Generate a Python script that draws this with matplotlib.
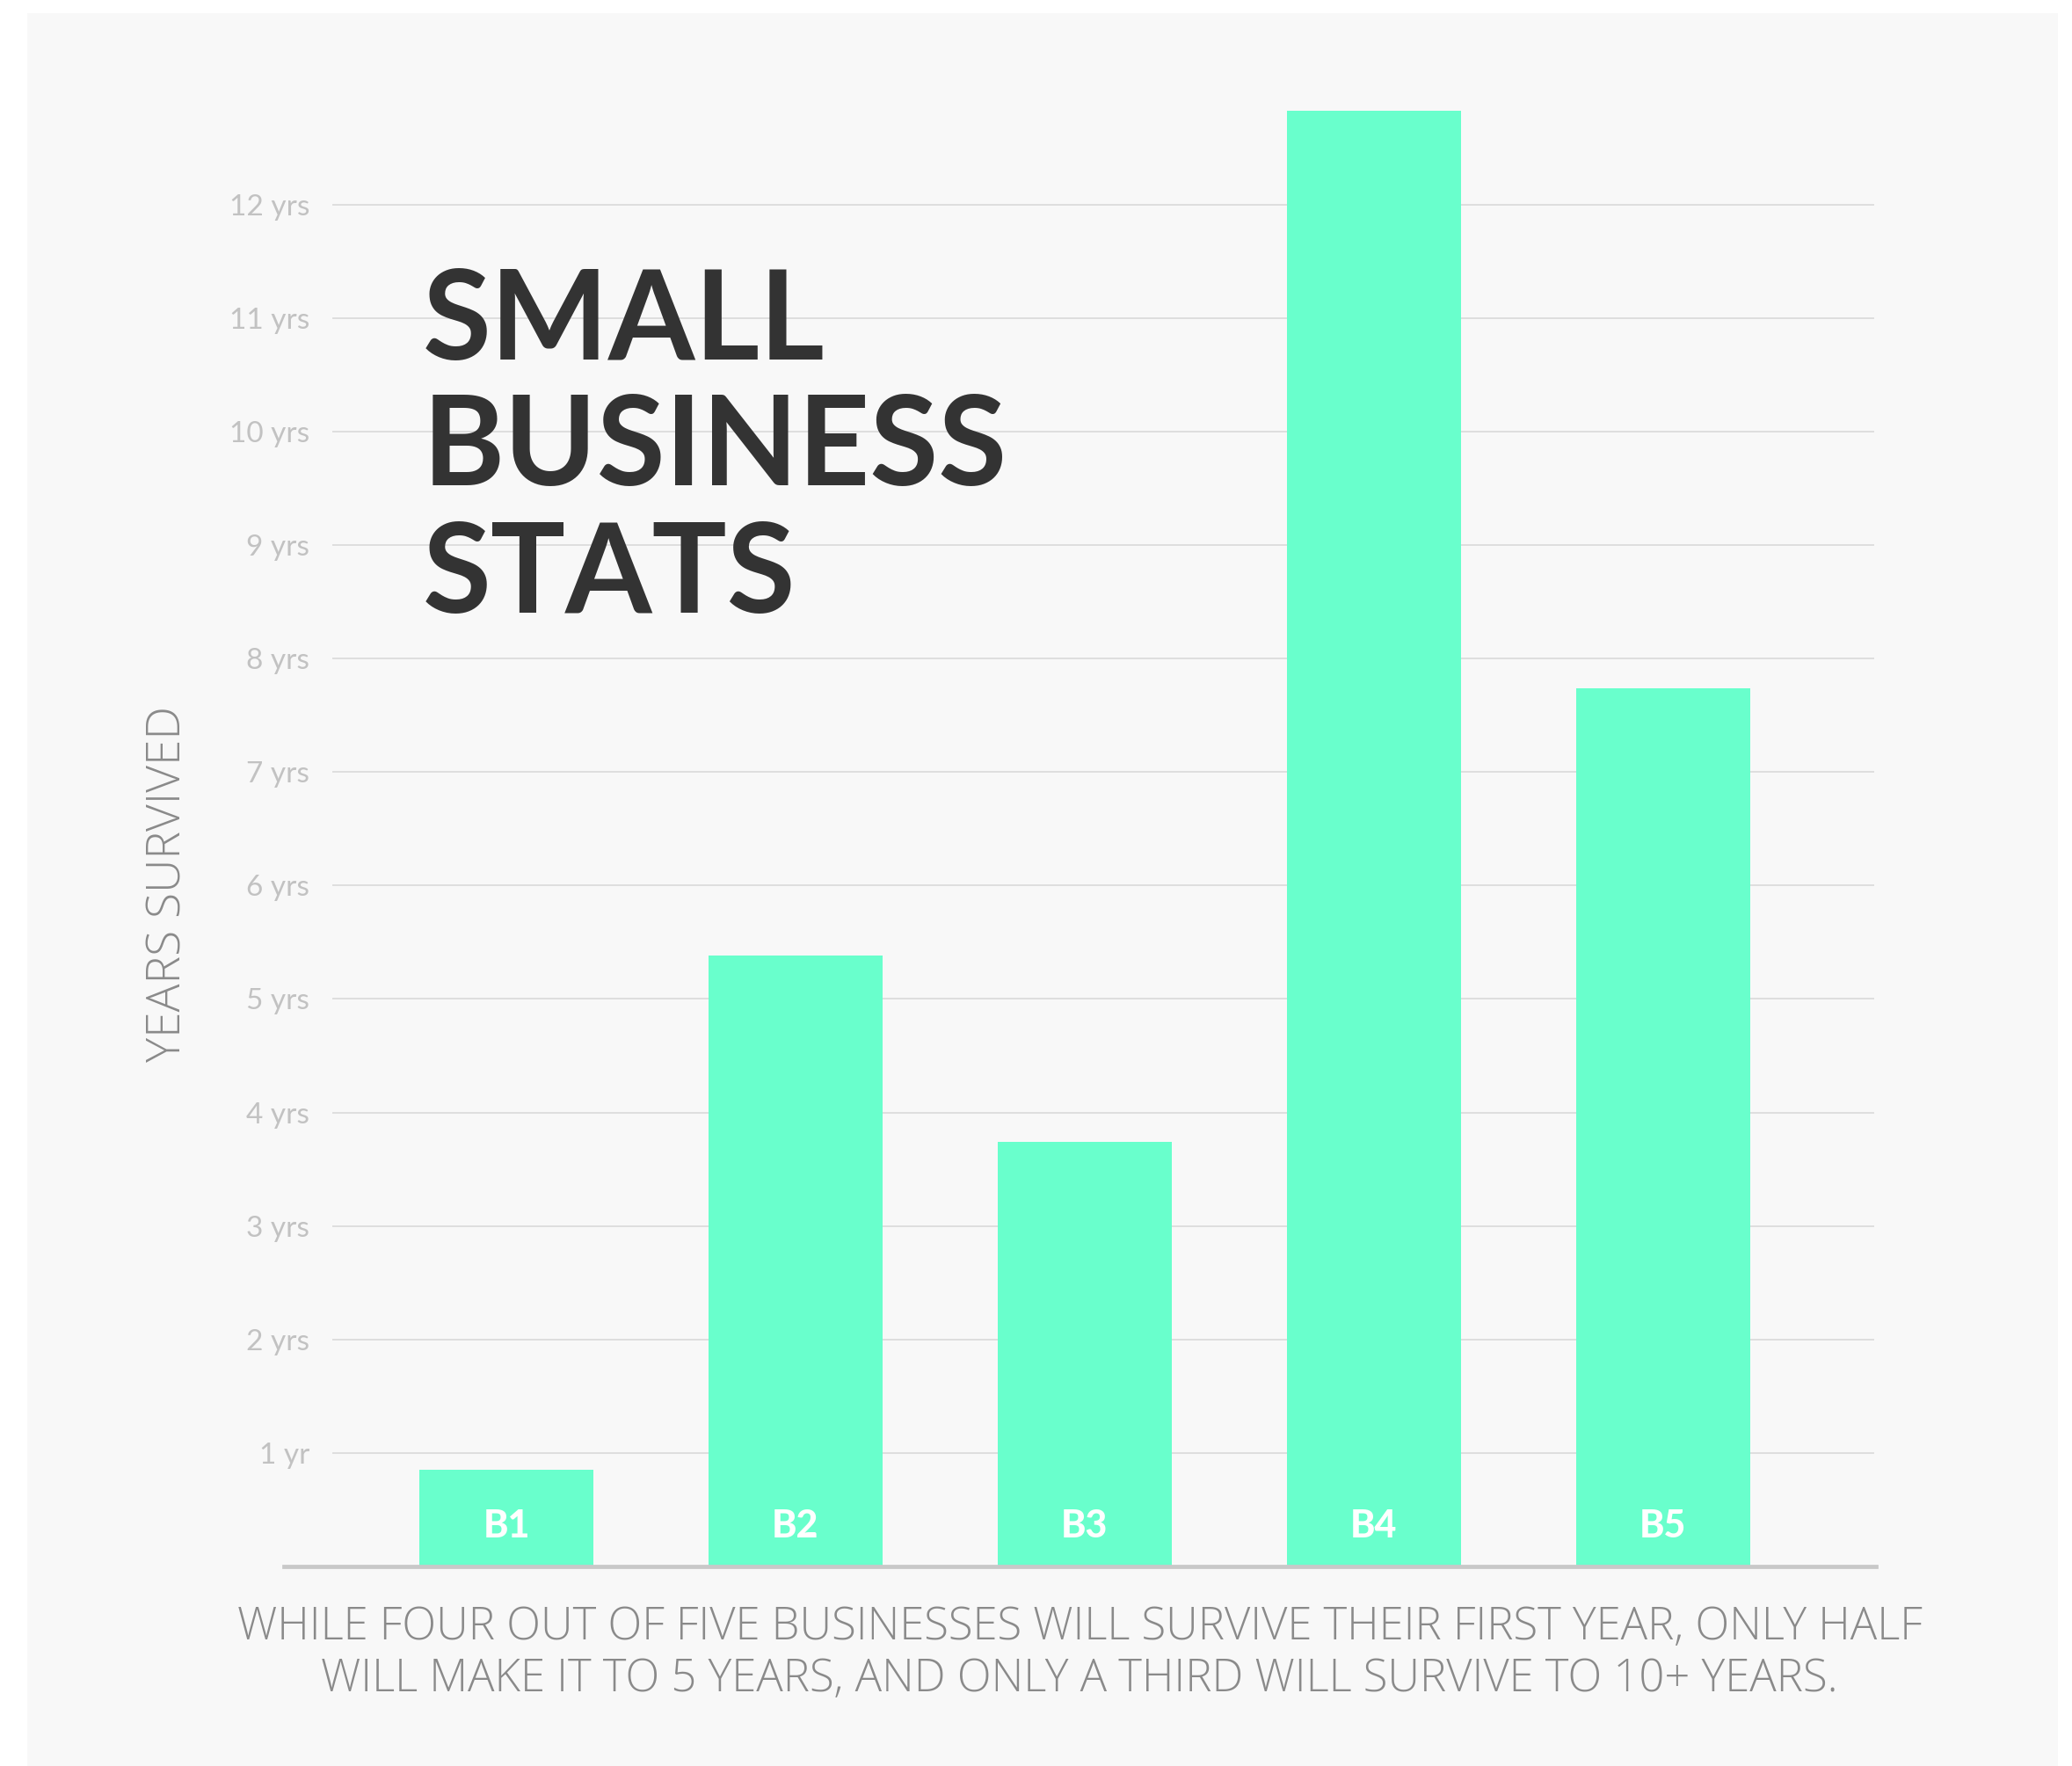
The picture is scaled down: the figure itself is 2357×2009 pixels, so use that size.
import matplotlib
matplotlib.use("Agg")
import matplotlib.pyplot as plt
from matplotlib.patches import Rectangle

# ---- data ----
categories = ["B1", "B2", "B3", "B4", "B5"]
years = [0.85, 5.38, 3.74, 12.83, 7.74]
tick_values = [1, 2, 3, 4, 5, 6, 7, 8, 9, 10, 11, 12]
tick_labels = ["1 yr", "2 yrs", "3 yrs", "4 yrs", "5 yrs", "6 yrs",
               "7 yrs", "8 yrs", "9 yrs", "10 yrs", "11 yrs", "12 yrs"]
title_lines = ["SMALL", "BUSINESS", "STATS"]
caption_lines = ["WHILE FOUR OUT OF FIVE BUSINESSES WILL SURVIVE THEIR FIRST YEAR, ONLY HALF",
                 "WILL MAKE IT TO 5 YEARS, AND ONLY A THIRD WILL SURVIVE TO 10+ YEARS."]
ylabel = "YEARS SURVIVED"

W, H = 2357, 2009
DPI = 100
fig = plt.figure(figsize=(W / DPI, H / DPI), dpi=DPI, facecolor="white")

# light panel
fig.patches.append(Rectangle((31 / W, 0), (2341 - 31) / W, (H - 15) / H,
                             transform=fig.transFigure, facecolor="#f8f8f8",
                             edgecolor="none", zorder=-10))

ax_left, ax_right = 323, 2134
ax_bottom, ax_top = 1782, 39
ax = fig.add_axes([ax_left / W, (H - ax_bottom) / H,
                   (ax_right - ax_left) / W, (ax_bottom - ax_top) / H])
ax.set_zorder(1)
ax.set_facecolor("none")
ax.set_ylim(0, 13.5)
ax.set_xlim(-0.769, 4.736)
for s in ax.spines.values():
    s.set_visible(False)

grid_x0 = (379 - ax_left) / (ax_right - ax_left)
grid_x1 = (2131 - ax_left) / (ax_right - ax_left)
for v in tick_values:
    ax.axhline(v, xmin=grid_x0, xmax=grid_x1, color="#dedede", lw=1.4, zorder=1)

x = list(range(len(categories)))
ax.bar(x, years, width=0.6, color="#69ffcc", zorder=2)
ax.axhline(0, color="#c8c8c8", lw=3.4, zorder=3, clip_on=False)

for xi, c in zip(x, categories):
    ax.text(xi, 0.356, c, ha="center", va="center", color="white",
            fontsize=31, fontweight="black", family="Lato", zorder=4)

ax.set_xticks([])
ax.set_yticks(tick_values)
ax.set_yticklabels(tick_labels, family="Lato", fontweight="normal",
                   fontsize=24, color="#c2c2c2")
ax.tick_params(axis="y", length=0, pad=-21)

renderer = fig.canvas.get_renderer()

def fit_width(txt, target_px, horizontal=True):
    bb = txt.get_window_extent(renderer=renderer)
    cur = bb.width if horizontal else bb.height
    txt.set_fontsize(txt.get_fontsize() * target_px / cur)

# title
title_baselines = [409, 552, 697]
title_texts = []
for line, yb in zip(title_lines, title_baselines):
    t = fig.text(481 / W, 1 - yb / H, line, ha="left", va="baseline",
                 fontsize=100, fontweight="bold", family="Lato", color="#333333")
    title_texts.append(t)
fit_width(title_texts[1], 665)
for t in title_texts:
    t.set_fontsize(title_texts[1].get_fontsize())

# y label
yl = fig.text(192 / W, 1 - 1006 / H, ylabel, rotation=90, ha="center", va="center",
              fontsize=30, family="Open Sans", fontweight="light", color="#8a8a8a")
fit_width(yl, 405, horizontal=False)

# caption
caps = []
for line, yc in zip(caption_lines, [1851, 1910]):
    t = fig.text(1228 / W, 1 - yc / H, line, ha="center", va="center",
                 fontsize=30, family="Open Sans", fontweight="light", color="#8a8a8a")
    caps.append(t)
fit_width(caps[0], 1920)
caps[1].set_fontsize(caps[0].get_fontsize())

fig.savefig("out.png", dpi=DPI, facecolor="white")
